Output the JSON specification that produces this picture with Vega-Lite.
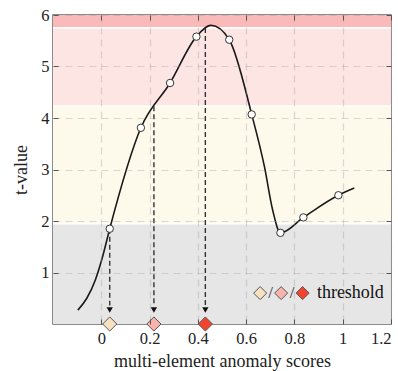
{
  "$schema": "https://vega.github.io/schema/vega-lite/v6.json",
  "width": 338,
  "height": 309,
  "autosize": "none",
  "padding": {"left": 53, "top": 15, "right": 7, "bottom": 47},
  "background": "white",
  "config": {
    "view": {"stroke": "#666", "strokeWidth": 1.5},
    "font": "Times New Roman",
    "text": {"font": "Times New Roman"},
    "axis": {
      "labelFont": "Times New Roman",
      "titleFont": "Times New Roman",
      "labelColor": "#222",
      "titleColor": "#222",
      "titleFontWeight": "normal",
      "domain": false,
      "tickColor": "#555"
    }
  },
  "datasets": {
    "bands": [
      {"lo": 0, "hi": 1.95, "band": "low"},
      {"lo": 1.95, "hi": 4.23, "band": "mid"},
      {"lo": 4.23, "hi": 5.75, "band": "high"},
      {"lo": 5.75, "hi": 6, "band": "top"}
    ],
    "curve": [
      {"score": -0.097, "t": 0.27, "sample": false},
      {"score": -0.06, "t": 0.5, "sample": false},
      {"score": -0.025, "t": 0.85, "sample": false},
      {"score": 0.005, "t": 1.3, "sample": false},
      {"score": 0.035, "t": 1.85, "sample": true},
      {"score": 0.164, "t": 3.81, "sample": true},
      {"score": 0.285, "t": 4.68, "sample": true},
      {"score": 0.394, "t": 5.58, "sample": true},
      {"score": 0.455, "t": 5.8, "sample": false},
      {"score": 0.53, "t": 5.52, "sample": true},
      {"score": 0.623, "t": 4.07, "sample": true},
      {"score": 0.676, "t": 3.05, "sample": false},
      {"score": 0.71, "t": 2.21, "sample": false},
      {"score": 0.742, "t": 1.77, "sample": true},
      {"score": 0.837, "t": 2.07, "sample": true},
      {"score": 0.982, "t": 2.5, "sample": true},
      {"score": 1.048, "t": 2.64, "sample": false}
    ],
    "thresholds": [
      {"score": 0.035, "top": 1.85, "arrow": 0.36, "head": 0.27, "level": "a"},
      {"score": 0.218, "top": 4.23, "arrow": 0.36, "head": 0.27, "level": "b"},
      {"score": 0.431, "top": 5.75, "arrow": 0.36, "head": 0.27, "level": "c"}
    ],
    "legend": [
      {"score": 0.658, "t": 0.6, "level": "a"},
      {"score": 0.745, "t": 0.6, "level": "b"},
      {"score": 0.834, "t": 0.6, "level": "c"}
    ],
    "legendText": [
      {"score": 0.701, "t": 0.6, "label": "/"},
      {"score": 0.79, "t": 0.6, "label": "/"}
    ]
  },
  "resolve": {"axis": {"x": "independent", "y": "independent"}},
  "layer": [
    {
      "data": {"name": "bands"},
      "mark": {"type": "rect"},
      "encoding": {
        "y": {"field": "lo", "type": "quantitative", "scale": {"domain": [0, 6], "nice": false, "zero": false},
          "axis": {"orient": "right", "values": [1, 2, 3, 4, 5, 6], "labels": false, "grid": false, "tickSize": -5, "title": null, "zindex": 2}},
        "y2": {"field": "hi"},
        "color": {"field": "band", "type": "nominal",
          "scale": {"domain": ["low", "mid", "high", "top"], "range": ["#e6e6e6", "#fefaeb", "#fde5e4", "#fababa"]},
          "legend": null}
      }
    },
    {
      "data": {"name": "bands"},
      "mark": {"type": "rule", "color": "white", "strokeWidth": 1.6},
      "transform": [{"filter": "datum.lo > 0"}],
      "encoding": {
        "y": {"field": "lo", "type": "quantitative", "axis": null}
      }
    },
    {
      "data": {"name": "thresholds"},
      "mark": {"type": "rule", "color": "#333", "strokeWidth": 1.4, "strokeDash": [5, 3]},
      "encoding": {
        "x": {"field": "score", "type": "quantitative", "scale": {"domain": [-0.2, 1.2], "nice": false, "zero": false},
          "axis": {"orient": "top", "values": [0, 0.2, 0.4, 0.6, 0.8, 1, 1.2], "labels": false, "grid": false, "tickSize": -5, "title": null, "zindex": 2}},
        "y": {"field": "top", "type": "quantitative", "axis": null},
        "y2": {"field": "arrow"}
      }
    },
    {
      "data": {"name": "thresholds"},
      "mark": {"type": "point", "shape": "triangle-down", "filled": true, "color": "#111", "size": 40, "opacity": 1},
      "encoding": {
        "x": {"field": "score", "type": "quantitative", "axis": null},
        "y": {"field": "head", "type": "quantitative", "axis": null}
      }
    },
    {
      "data": {"name": "curve"},
      "mark": {"type": "line", "interpolate": "monotone", "color": "#1a1a1a", "strokeWidth": 1.6},
      "encoding": {
        "x": {"field": "score", "type": "quantitative",
          "axis": {"orient": "bottom", "values": [0, 0.2, 0.4, 0.6, 0.8, 1, 1.2], "format": "~g", "title": "multi-element anomaly scores",
            "labelFontSize": 16.5, "titleFontSize": 18, "tickSize": -5, "labelPadding": 11, "titlePadding": 6, "zindex": 1,
            "grid": true, "gridColor": "#999999", "gridOpacity": 0.35, "gridDash": [7, 5], "gridWidth": 1.2}},
        "y": {"field": "t", "type": "quantitative",
          "axis": {"orient": "left", "values": [1, 2, 3, 4, 5, 6], "title": "t-value", "zindex": 1,
            "labelFontSize": 16.5, "titleFontSize": 18, "tickSize": -5, "labelPadding": 9, "titlePadding": 10,
            "grid": true, "gridColor": "#999999", "gridOpacity": 0.35, "gridDash": [7, 5], "gridWidth": 1.2}}
      }
    },
    {
      "data": {"name": "curve"},
      "transform": [{"filter": "datum.sample"}],
      "mark": {"type": "point", "shape": "circle", "filled": true, "fill": "white", "stroke": "#333", "strokeWidth": 1, "size": 55, "opacity": 1},
      "encoding": {
        "x": {"field": "score", "type": "quantitative", "axis": null},
        "y": {"field": "t", "type": "quantitative", "axis": null}
      }
    },
    {
      "data": {"name": "thresholds"},
      "mark": {"type": "point", "shape": "diamond", "filled": true, "stroke": "#555", "strokeWidth": 1, "size": 200, "opacity": 1},
      "encoding": {
        "x": {"field": "score", "type": "quantitative", "axis": null},
        "y": {"datum": 0, "type": "quantitative", "axis": null},
        "fill": {"field": "level", "type": "nominal",
          "scale": {"domain": ["a", "b", "c"], "range": ["#f6e2c0", "#f8b3ad", "#f3442f"]}, "legend": null}
      }
    },
    {
      "data": {"name": "legend"},
      "mark": {"type": "point", "shape": "diamond", "filled": true, "stroke": "#555", "strokeWidth": 1, "size": 170, "opacity": 1},
      "encoding": {
        "x": {"field": "score", "type": "quantitative", "axis": null},
        "y": {"field": "t", "type": "quantitative", "axis": null},
        "fill": {"field": "level", "type": "nominal", "legend": null}
      }
    },
    {
      "data": {"name": "legendText"},
      "mark": {"type": "text", "fontSize": 17, "color": "#333", "baseline": "middle", "align": "center", "font": "Times New Roman"},
      "encoding": {
        "x": {"field": "score", "type": "quantitative", "axis": null},
        "y": {"field": "t", "type": "quantitative", "axis": null},
        "text": {"field": "label"}
      }
    },
    {
      "data": {"values": [{"score": 0.893, "t": 0.6, "label": "threshold"}]},
      "mark": {"type": "text", "fontSize": 18, "color": "#111", "baseline": "middle", "align": "left", "font": "Times New Roman"},
      "encoding": {
        "x": {"field": "score", "type": "quantitative", "axis": null},
        "y": {"field": "t", "type": "quantitative", "axis": null},
        "text": {"field": "label"}
      }
    }
  ]
}
